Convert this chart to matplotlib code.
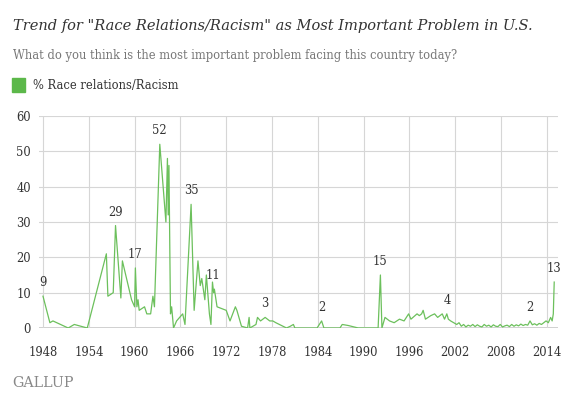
import matplotlib
matplotlib.use("Agg")
import matplotlib.pyplot as plt

years = [1948.0, 1948.9, 1949.3, 1951.3, 1952.1, 1953.8, 1956.3, 1956.5, 1957.2, 1957.5,
         1958.2, 1958.4, 1959.6, 1960.0, 1960.1, 1960.3, 1960.45, 1960.6, 1961.3, 1961.6,
         1962.1, 1962.4, 1962.6, 1963.3, 1964.1, 1964.3, 1964.4, 1964.5, 1964.7, 1964.85,
         1965.1, 1965.5, 1966.3, 1966.6, 1967.4, 1967.8, 1968.3, 1968.6, 1968.8, 1969.2,
         1969.4, 1969.8, 1970.0, 1970.2, 1970.35, 1970.45, 1970.8, 1972.0, 1972.5, 1973.2,
         1973.4, 1974.0, 1974.8, 1975.0, 1975.1, 1975.9, 1976.1, 1976.5, 1977.1, 1977.7,
         1978.1, 1978.5, 1979.9, 1980.4, 1980.8, 1981.0, 1983.9, 1984.5, 1984.8, 1986.9,
         1987.2, 1988.0, 1989.3, 1991.9, 1992.2, 1992.4, 1992.8, 1993.4, 1994.0, 1994.7,
         1995.3, 1995.9, 1996.2, 1997.0, 1997.3, 1997.6, 1997.8, 1998.1, 1998.8, 1999.3,
         1999.7, 2000.3, 2000.6, 2000.9, 2001.1, 2001.4, 2001.8, 2002.2, 2002.5, 2002.8,
         2003.1, 2003.4, 2003.7, 2004.0, 2004.3, 2004.6, 2004.9, 2005.2, 2005.5, 2005.8,
         2006.1, 2006.4, 2006.7, 2007.0, 2007.3, 2007.6, 2007.9, 2008.2, 2008.5, 2008.8,
         2009.1, 2009.4, 2009.7, 2010.0, 2010.3, 2010.6, 2010.9, 2011.2, 2011.5, 2011.8,
         2012.1, 2012.4, 2012.7, 2013.0, 2013.3, 2013.6, 2013.9, 2014.2, 2014.5, 2014.7,
         2014.85, 2014.97]
values = [9, 1.5, 2, 0, 1, 0, 21, 9, 10, 29,
          8.5, 19, 8, 6, 17, 6, 8, 5, 6, 4,
          4, 9, 6, 52, 30, 48, 32, 46, 4, 6,
          0, 2, 4, 1, 35, 5, 19, 12, 14, 8,
          15, 4, 1, 13, 10, 11, 6, 5, 2, 6,
          5, 0.5, 0, 3, 0, 1, 3, 2, 3, 2,
          2, 1.5, 0, 0.5, 1, 0, 0, 2, 0, 0,
          1, 0.7, 0, 0, 15, 0, 3, 2, 1.5, 2.5,
          2, 4, 2.5, 4, 3.5, 4, 5, 2.5, 3.5, 4,
          3, 4, 2.5, 4, 2.5, 2, 1.5, 1, 1.5, 0.5,
          1, 0.3, 0.8, 0.5, 1, 0.4, 0.9, 0.5, 0.3, 1,
          0.5, 0.8, 0.3, 0.9, 0.5, 0.4, 1, 0.3, 0.6, 0.8,
          0.4, 1, 0.5, 0.9, 0.6, 1.1, 0.7, 1, 0.8, 2,
          0.9, 1.2, 0.8, 1.3, 1, 1.5, 2, 1.5, 3, 2,
          4, 13]

label_years = [1948.0, 1957.5, 1960.1, 1963.3, 1967.4, 1970.2, 1977.1, 1984.5, 1992.2, 2000.9, 2011.8, 2014.97]
label_values = [9, 29, 17, 52, 35, 11, 3, 2, 15, 4, 2, 13]

xticks = [1948, 1954, 1960, 1966, 1972, 1978, 1984, 1990, 1996, 2002, 2008, 2014]
yticks = [0, 10, 20, 30, 40, 50, 60]

green = "#6cc05c"
grid = "#d6d6d6"
serif = "DejaVu Serif"

fig = plt.figure(figsize=(5.7, 4.07), dpi=100)
ax = fig.add_axes([43/570 - 0.5*7.63/570, 1 - 328/407, 514.5/570 + 0.5*7.63/570, 212/407])
ax.plot(years, values, color=green, lw=0.9)
ax.set_xlim(1947.5, 2015.4)
ax.set_ylim(0, 60)
ax.set_xticks(xticks)
ax.set_yticks(yticks)
ax.set_xticklabels([str(t) for t in xticks], family=serif, fontsize=8.3, color="#333333")
ax.set_yticklabels([str(t) for t in yticks], family=serif, fontsize=8.3, color="#333333")
ax.tick_params(length=0)
ax.tick_params(axis='y', pad=6)
ax.tick_params(axis='x', pad=13)
ax.grid(True, color=grid, lw=0.8)
ax.set_axisbelow(True)
for s in ax.spines.values():
    s.set_visible(False)
ax.axhline(0, color="#cccccc", lw=2, zorder=0.5)

for x, v in zip(label_years, label_values):
    ax.annotate(str(v), (x, v), xytext=(0, 5), textcoords="offset points",
                ha="center", va="bottom", family=serif, fontsize=8.3, color="#333333")

fig.text(13/570, 1 - 26/407, 'Trend for "Race Relations/Racism" as Most Important Problem in U.S.',
         family=serif, style="italic", fontsize=10.55, color="#333333", va="center")
fig.text(13/570, 1 - 55/407, 'What do you think is the most important problem facing this country today?',
         family=serif, fontsize=8.3, color="#777777", va="center")
fig.patches.append(plt.Rectangle((12/570, 1 - 92/407), 13/570, 14/407, transform=fig.transFigure,
                                 color="#5cb84a", figure=fig))
fig.text(33/570, 1 - 85/407, '% Race relations/Racism', family=serif, fontsize=8.3,
         color="#333333", va="center")
fig.text(12/570, 1 - 383/407, 'GALLUP', family=serif, fontsize=10.3, color="#888888", va="center")

fig.savefig("out.png", dpi=100)
